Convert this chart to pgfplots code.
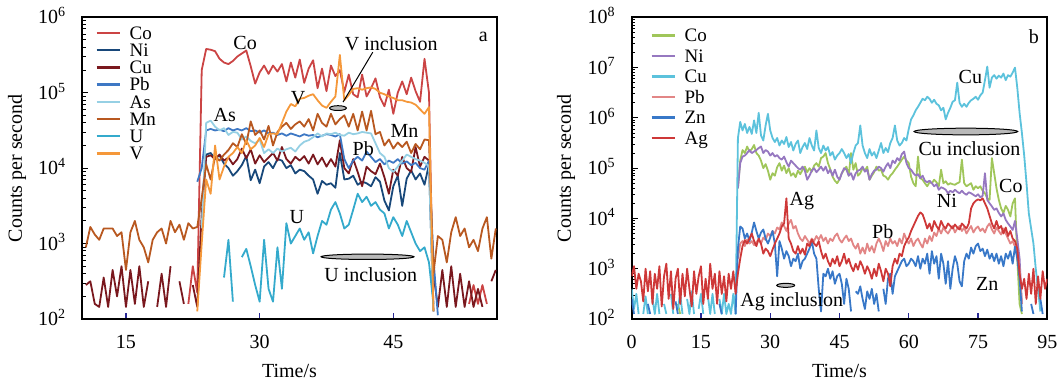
\documentclass[border=0pt]{standalone}
\usepackage{fontspec}
\setmainfont{Liberation Serif}
\usepackage{pgfplots}
\usepackage{pgfplotstable}
\pgfplotsset{compat=1.18}

\definecolor{aCo}{RGB}{203,68,68}
\definecolor{aNi}{RGB}{24,72,122}
\definecolor{aCu}{RGB}{122,24,30}
\definecolor{aPb}{RGB}{62,120,196}
\definecolor{aAs}{RGB}{150,208,228}
\definecolor{aMn}{RGB}{184,88,32}
\definecolor{aU}{RGB}{52,170,204}
\definecolor{aV}{RGB}{245,152,58}
\definecolor{bCo}{RGB}{160,198,90}
\definecolor{bNi}{RGB}{150,120,192}
\definecolor{bCu}{RGB}{92,194,220}
\definecolor{bPb}{RGB}{226,134,134}
\definecolor{bZn}{RGB}{56,120,200}
\definecolor{bAg}{RGB}{206,56,56}
\definecolor{tickblue}{RGB}{40,40,150}

% log10 of counts per second, panel a
\pgfplotstableread{
t co ni cu pb as mn u v
10.5 nan nan 2.45 nan nan 2.95 nan nan
11.0 nan nan 2.5 nan nan 3.22 nan nan
11.5 nan nan 2.2 nan nan 3.12 nan nan
12.0 nan nan 2.16 nan nan 3.05 nan nan
12.5 nan nan 2.55 nan nan 3.2 nan nan
13.0 nan nan 2.16 nan nan 3.2 nan nan
13.5 nan nan 2.65 nan nan 3.2 nan nan
14.0 nan nan 2.3 nan nan 3.1 nan nan
14.5 nan nan 2.7 nan nan 3.15 nan nan
15.0 nan nan 2.16 nan nan 2.65 nan nan
15.5 nan nan 2.65 nan nan 3.15 nan nan
16.0 nan nan 2.2 nan nan 3.3 nan nan
16.5 nan nan 2.7 nan nan 3.05 nan nan
17.0 nan nan 2.16 nan nan 2.95 nan nan
17.5 nan nan 2.5 nan nan 2.75 nan nan
18.0 nan nan nan nan nan 3.05 nan nan
18.5 nan nan 2.16 nan nan 3.15 nan nan
19.0 nan nan 2.6 nan nan 3.2 nan nan
19.5 nan nan 2.16 nan nan 3.0 nan nan
20.0 nan nan 2.7 nan nan 3.3 nan nan
20.5 nan nan nan nan nan 3.15 nan nan
21.0 nan nan 2.5 nan nan 3.25 nan nan
21.5 nan nan 2.2 nan nan 3.05 nan nan
22.0 2.2 nan nan nan nan 3.27 nan nan
22.5 2.7 nan 2.45 nan nan 3.2 nan nan
23.0 2.35 nan 2.16 3.82 nan 3.22 nan 2.1
23.5 5.3 3.5 3.4 4.0 3.2 3.6 nan 3.0
24.0 5.58 4.18 4.15 4.5 4.6 4.05 nan 3.85
24.5 5.57 4.2 4.17 4.52 4.63 3.85 nan 3.66
25.0 5.55 4.13 4.12 4.5 4.55 4.15 nan 4.3
25.5 5.45 4.17 4.18 4.51 4.5 4.1 nan 3.85
26.0 5.40 4.06 4.1 4.49 4.53 4.18 2.55 4.02
26.5 5.38 4.0 4.14 4.53 4.44 4.24 3.05 4.15
27.0 5.42 3.9 4.05 4.5 4.48 4.33 2.23 4.2
27.5 5.48 3.96 4.12 4.52 4.47 4.28 nan 4.28
28.0 5.52 4.04 4.26 4.5 4.38 4.45 2.82 4.2
28.5 5.56 4.16 4.13 4.53 4.42 4.32 2.93 4.37
29.0 5.35 3.84 4.25 4.49 4.36 4.62 2.7 4.25
29.5 5.12 3.98 4.06 4.5 4.33 4.44 2.45 4.3
30.0 5.27 3.8 4.17 4.47 4.38 4.5 2.23 4.4
30.5 5.36 4.02 4.08 4.5 4.2 4.38 3.05 4.28
31.0 5.25 4.08 4.14 4.46 4.25 4.56 2.4 4.45
31.5 5.36 4.0 4.2 4.47 4.2 4.3 2.23 4.46
32.0 5.28 4.12 4.1 4.44 4.26 4.48 2.95 4.45
32.5 5.38 4.1 4.28 4.46 4.22 4.55 2.4 4.6
33.0 5.15 4.0 4.12 4.43 4.25 4.6 3.27 4.75
33.5 5.40 4.04 4.06 4.46 4.27 4.52 3.0 4.85
34.0 5.20 3.93 4.15 4.44 4.22 4.58 3.1 4.82
34.5 5.44 3.98 4.1 4.42 4.3 4.62 3.2 4.92
35.0 5.13 3.96 4.16 4.45 4.35 4.55 3.05 4.93
35.5 5.32 3.9 4.06 4.43 4.37 4.65 3.15 4.96
36.0 5.43 3.85 4.18 4.44 4.41 4.5 2.87 4.98
36.5 5.06 3.66 4.05 4.41 4.46 4.72 3.1 4.9
37.0 5.32 3.83 4.14 4.43 4.42 4.6 3.3 4.83
37.5 5.02 3.78 4.02 4.45 4.46 4.55 3.25 4.8
38.0 5.36 3.8 4.12 4.44 4.45 4.72 3.45 4.88
38.5 5.22 3.74 4.02 4.42 4.47 4.58 3.55 4.95
39.0 5.30 4.2 4.37 4.45 4.44 4.65 3.4 5.5
39.5 5.01 3.85 4.0 4.12 4.43 4.7 3.2 4.9
40.0 5.24 3.86 3.93 4.0 4.47 4.55 3.25 4.97
40.5 4.98 3.9 4.12 4.1 4.45 4.72 3.45 5.05
41.0 4.94 3.78 3.95 4.15 4.46 4.5 3.66 5.06
41.5 5.24 3.82 3.76 4.1 4.48 4.75 3.55 5.04
42.0 4.95 3.8 4.02 4.22 4.47 4.5 3.62 5.06
42.5 5.06 3.76 3.96 4.15 4.46 4.76 3.5 5.07
43.0 5.19 3.88 3.92 4.08 4.33 4.45 3.55 5.05
43.5 4.94 3.82 4.06 4.12 4.2 4.48 3.45 5.0
44.0 4.82 3.57 3.88 4.05 4.15 4.3 3.4 4.98
44.5 5.04 3.44 3.66 4.1 4.0 4.38 3.2 4.95
45.0 4.72 3.76 3.98 4.07 3.95 4.26 3.35 4.93
45.5 5.0 3.9 3.9 4.12 4.02 4.34 3.25 4.9
46.0 5.15 3.5 4.15 4.06 4.1 4.28 3.1 4.9
46.5 4.98 3.86 4.0 4.09 4.18 4.35 3.3 4.88
47.0 5.2 3.97 3.95 4.04 4.15 4.2 3.15 4.87
47.5 5.02 3.85 4.28 4.07 4.12 4.32 3.0 4.84
48.0 4.88 3.93 4.02 4.0 4.1 4.25 2.9 4.78
48.5 5.45 3.78 4.15 3.98 4.07 4.38 2.95 4.72
49.0 5.0 4.05 4.1 4.1 4.03 4.37 2.75 4.81
49.5 2.1 2.1 2.6 2.8 2.1 2.6 2.2 2.1
50.0 nan nan 2.16 2.05 nan 3.1 nan nan
50.5 nan nan 2.65 nan nan 3.05 nan nan
51.0 nan nan 2.16 nan nan 2.75 nan nan
51.5 nan nan 2.7 nan nan 3.15 nan nan
52.0 nan nan 2.16 nan nan 3.35 nan nan
52.5 nan nan 2.6 nan nan 3.1 nan nan
53.0 nan nan 2.16 nan nan 3.2 nan nan
53.5 2.2 nan 2.5 nan nan 2.95 nan nan
54.0 2.45 nan 2.16 nan nan 3.05 nan nan
54.5 2.2 nan 2.4 nan nan 2.9 nan nan
55.0 2.45 nan 2.16 nan nan 3.2 nan nan
55.5 2.2 nan nan nan nan 3.35 nan nan
56.0 nan nan 2.5 nan nan 2.8 nan nan
56.5 nan nan 2.65 nan nan 3.2 nan nan
}\tabA

% log10 of counts per second, panel b
\pgfplotstableread{
t co ni cu pb zn ag
0.0 nan nan 2.6 nan 2.4 2.85
0.5 nan nan 2.2 nan 2.1 3.05
1.0 nan nan 2.5 nan nan 2.6
1.5 nan nan 2.1 nan nan 2.9
2.0 nan nan nan nan nan 2.75
2.5 nan nan 2.1 nan nan 2.35
3.0 nan nan 2.45 nan nan 3.0
3.5 nan nan 2.1 nan 2.3 2.55
4.0 nan nan nan nan 2.1 2.95
4.5 nan nan 2.4 nan nan 2.3
5.0 nan nan 2.1 nan nan 2.9
5.5 nan nan 2.5 nan nan 2.6
6.0 nan nan 2.1 nan nan 3.05
6.5 nan nan nan nan nan 2.25
7.0 nan nan 2.3 nan nan 2.85
7.5 nan nan 2.1 nan nan 3.1
8.0 nan nan nan nan nan 2.4
8.5 nan nan 2.5 nan nan 2.95
9.0 nan nan 2.1 nan nan 2.2
9.5 nan nan nan nan 2.35 2.8
10.0 2.3 nan 2.2 nan 2.1 3.0
10.5 2.1 nan 2.5 nan nan 2.3
11.0 nan nan 2.1 nan nan 2.9
11.5 nan nan nan nan nan 2.45
12.0 nan nan 2.4 nan nan 3.0
12.5 nan nan 2.1 nan nan 2.6
13.0 nan nan 2.55 nan nan 2.25
13.5 nan nan 2.1 nan nan 2.95
14.0 nan nan nan nan nan 2.5
14.5 nan nan 2.2 nan nan 2.85
15.0 nan nan 2.5 nan nan 3.05
15.5 nan nan 2.1 nan nan 2.3
16.0 nan nan nan nan nan 2.8
16.5 nan nan 2.45 nan nan 2.4
17.0 nan nan 2.1 nan nan 3.1
17.5 nan nan 2.5 nan nan 2.6
18.0 nan nan 2.1 nan nan 2.9
18.5 nan nan nan nan nan 2.3
19.0 nan nan 2.4 nan 2.3 2.95
19.5 nan nan 2.1 nan 2.1 2.5
20.0 nan nan 2.5 nan nan 2.85
20.5 nan nan 2.1 nan nan 2.35
21.0 nan nan 2.3 nan nan 2.9
21.5 nan nan 2.1 nan nan 2.6
22.0 nan nan 2.5 nan nan 2.95
22.5 nan nan 2.1 nan 2.1 2.5
23.0 4.6 4.6 5.6 3.2 3.4 2.9
23.5 5.15 5.1 5.92 3.5 3.84 3.2
24.0 5.36 5.23 5.75 3.55 3.8 3.45
24.5 5.3 5.25 5.88 3.45 3.6 3.57
25.0 5.43 5.3 5.7 3.58 3.7 3.5
25.5 5.33 5.36 5.82 3.5 3.55 3.6
26.0 5.38 5.3 5.68 3.55 3.72 3.7
26.5 5.46 5.33 5.95 3.47 3.92 3.55
27.0 5.3 5.36 5.7 3.53 3.75 3.45
27.5 5.25 5.4 6.1 3.58 3.6 3.6
28.0 5.15 5.43 5.65 3.5 3.72 3.5
28.5 5.0 5.3 5.55 3.62 3.78 3.3
29.0 5.08 5.36 5.85 3.57 3.6 3.4
29.5 4.95 5.33 6.08 3.7 3.5 3.35
30.0 4.77 5.25 5.75 3.65 3.62 3.25
30.5 4.9 5.3 5.6 3.75 3.75 3.38
31.0 4.85 5.23 5.52 3.7 3.5 3.5
31.5 5.02 5.26 5.6 3.82 2.85 3.6
32.0 5.1 5.2 5.45 3.78 3.55 3.7
32.5 4.95 5.17 5.55 3.92 3.4 3.84
33.0 5.05 5.23 5.48 3.85 3.2 3.9
33.5 4.9 5.12 5.62 3.75 3.35 4.4
34.0 5.0 5.03 5.42 3.9 3.25 3.6
34.5 4.85 5.15 5.52 3.97 3.05 3.5
35.0 4.9 5.1 5.35 3.8 3.2 3.35
35.5 4.82 5.05 5.48 3.85 3.15 3.3
36.0 4.95 5.0 5.55 3.7 3.3 3.45
36.5 4.88 4.97 5.3 3.6 3.0 3.3
37.0 4.97 5.03 5.42 3.55 3.15 3.4
37.5 5.03 4.95 5.5 3.65 3.2 3.28
38.0 4.92 4.77 5.38 3.58 3.3 3.5
38.5 5.0 4.85 5.6 3.5 3.4 3.45
39.0 4.93 4.95 5.45 3.6 3.55 3.58
39.5 5.05 5.0 5.35 3.55 3.3 3.5
40.0 5.1 4.92 5.75 3.65 3.2 3.45
40.5 5.03 4.97 5.4 3.58 2.6 3.55
41.0 5.2 5.03 5.3 3.67 2.15 3.35
41.5 5.23 4.95 5.45 3.55 2.9 3.2
42.0 5.3 5.03 5.35 3.62 2.85 3.3
42.5 5.1 4.9 5.42 3.5 3.0 3.15
43.0 4.98 4.97 5.25 3.6 2.8 3.05
43.5 4.83 4.85 5.32 3.55 2.95 3.2
44.0 4.75 4.97 5.17 3.65 2.7 3.1
44.5 4.7 4.83 5.25 3.7 2.85 3.25
45.0 4.78 4.77 5.3 3.58 2.9 3.05
45.5 4.9 4.9 5.38 3.52 2.7 3.15
46.0 4.97 5.0 5.3 3.6 2.3 3.3
46.5 5.03 4.97 5.2 3.66 2.8 3.1
47.0 4.85 4.85 5.28 3.55 2.6 3.2
47.5 5.3 4.9 5.1 3.6 2.15 3.05
48.0 4.97 4.77 5.3 3.47 nan 2.95
48.5 5.1 4.9 5.45 3.4 2.55 3.1
49.0 4.85 4.95 5.5 3.5 2.5 2.98
49.5 4.9 4.97 5.85 3.3 2.65 3.15
50.0 5.0 5.03 5.45 3.42 2.4 3.05
50.5 4.95 4.93 5.3 3.3 2.2 2.9
51.0 5.03 4.97 5.2 3.5 2.55 3.05
51.5 4.77 4.77 5.38 3.35 2.4 2.95
52.0 4.85 4.88 5.25 3.45 2.6 2.8
52.5 4.92 4.95 5.32 3.32 2.3 3.0
53.0 5.03 4.97 5.2 3.5 2.5 2.85
53.5 4.95 5.03 5.35 3.6 2.15 3.1
54.0 4.97 5.0 5.5 3.5 nan 2.95
54.5 4.85 4.93 5.3 3.35 2.6 2.75
55.0 4.83 5.03 5.4 3.55 2.3 3.0
55.5 4.77 5.1 5.32 3.45 2.8 2.9
56.0 4.85 5.0 5.5 3.6 2.9 2.65
56.5 4.9 5.15 5.6 3.5 2.5 3.05
57.0 4.97 5.1 5.85 3.55 2.85 3.2
57.5 5.03 5.2 5.55 3.45 2.95 3.1
58.0 5.1 5.15 5.45 3.6 3.05 3.3
58.5 5.17 5.28 5.5 3.5 3.15 3.25
59.0 5.23 5.33 5.6 3.7 3.2 3.45
59.5 5.15 5.1 5.55 3.58 3.05 3.55
60.0 5.1 5.0 5.78 3.5 3.1 3.62
60.5 4.83 4.97 5.97 3.6 3.2 3.75
61.0 4.7 4.9 6.05 3.45 3.15 3.85
61.5 4.64 4.85 6.15 3.55 3.05 3.95
62.0 5.23 4.88 6.22 3.6 3.25 4.05
62.5 4.8 4.8 6.3 3.5 3.0 4.12
63.0 4.77 4.85 6.38 3.42 3.2 4.08
63.5 4.7 4.75 6.35 3.6 3.1 3.95
64.0 4.64 4.72 6.42 3.5 3.3 3.8
64.5 4.72 4.75 6.38 3.65 2.9 3.9
65.0 4.7 4.7 6.3 3.55 3.35 3.75
65.5 4.77 4.64 6.36 3.72 3.1 3.95
66.0 4.72 4.68 6.28 3.65 3.25 3.85
66.5 4.64 4.57 6.25 3.8 2.8 3.78
67.0 4.97 4.62 6.15 3.7 3.3 3.95
67.5 4.7 4.6 6.2 3.82 3.1 3.85
68.0 4.74 4.57 5.97 3.75 2.7 3.8
68.5 4.67 4.5 6.1 3.7 3.15 3.9
69.0 4.7 4.55 6.2 3.78 2.6 3.85
69.5 4.68 4.52 6.32 3.85 3.0 3.8
70.0 4.67 4.57 6.35 3.72 3.25 3.88
70.5 4.7 4.53 6.7 3.8 3.1 3.82
71.0 4.72 4.5 6.3 3.85 2.75 3.78
71.5 5.17 4.55 6.22 3.75 2.65 3.9
72.0 4.7 4.5 6.28 3.82 3.15 3.85
72.5 4.64 4.47 6.22 3.7 3.3 3.8
73.0 4.67 4.52 6.3 3.78 3.2 3.9
73.5 4.7 4.5 6.35 3.85 3.42 4.2
74.0 4.57 4.47 6.38 3.72 3.3 4.3
74.5 4.64 4.44 6.42 3.8 3.45 4.35
75.0 4.6 4.48 6.36 3.84 3.5 4.38
75.5 4.64 4.42 6.45 3.75 3.35 4.36
76.0 4.55 4.45 6.5 3.8 3.4 4.4
76.5 4.5 4.9 6.75 3.72 3.25 4.3
77.0 4.4 4.37 7.02 3.84 3.38 4.2
77.5 4.37 4.3 6.6 3.9 3.2 4.05
78.0 5.2 4.24 6.8 3.78 3.3 3.9
78.5 4.9 4.17 6.85 3.7 3.15 3.8
79.0 4.6 4.2 6.78 3.82 3.3 3.95
79.5 4.37 4.11 6.84 3.75 3.1 3.8
80.0 4.2 4.04 6.8 3.68 3.25 3.85
80.5 4.11 4.1 6.88 3.8 3.05 3.7
81.0 4.25 3.97 6.75 3.7 3.3 3.82
81.5 4.17 3.9 6.85 3.6 3.2 3.65
82.0 4.04 3.84 6.82 3.5 3.35 3.75
82.5 4.3 3.77 6.9 3.55 3.1 3.6
83.0 4.4 3.95 7.0 3.44 3.44 3.55
83.5 3.2 3.6 6.6 3.35 3.2 3.4
84.0 2.3 3.2 6.1 3.0 2.8 2.9
84.5 2.1 2.3 5.7 2.3 2.15 2.6
85.0 nan nan 5.25 nan nan 2.8
85.5 nan nan 4.7 nan nan 2.4
86.0 nan nan 4.1 nan nan 2.9
86.5 nan nan 3.8 nan 2.3 2.5
87.0 nan nan 3.5 nan 2.1 3.0
87.5 nan nan 3.0 nan nan 2.3
88.0 nan nan 2.6 nan nan 2.85
88.5 nan nan 2.15 nan 2.4 2.4
89.0 nan nan nan nan 2.1 2.95
89.5 nan nan nan nan nan 2.6
90.0 nan nan nan nan nan 2.8
}\tabB

\pgfplotsset{
  mypanel/.style={
    scale only axis,
    tick pos=left, tick align=inside,
    major tick length=3pt, minor tick length=1.8pt,
    xtick style={draw=tickblue, line width=0.6pt},
    ytick style={draw=black, line width=0.5pt},
    axis line style={line width=1pt},
    xticklabel style={anchor=center, yshift=-11.35pt},
    yticklabel shift=4.5pt,
    yticklabel style={anchor=base east, yshift=-3.3pt},
    unbounded coords=jump, no markers,
    every axis plot/.append style={line width=0.9pt, line join=round},
    legend cell align=left,
  }
}

\begin{document}
\begin{tikzpicture}[font=\fontsize{10}{12}\selectfont]
\useasboundingbox (0,0) rectangle (529.5pt,190pt);

\begin{axis}[mypanel, ymode=log, ymin=100,
  at={(41.15pt,30.5pt)}, anchor=south west,
  width=207.2pt, height=150.85pt,
  xmin=10.1, xmax=56.6, ymax=1e6,
  xtick={15,30,45}, xticklabels={15,30,45},
  ytick={1e2,1e3,1e4,1e5,1e6},
  yticklabels={10\textsuperscript{2},10\textsuperscript{3},10\textsuperscript{4},10\textsuperscript{5},10\textsuperscript{6}},
  minor ytick={200,300,400,500,600,700,800,900,2000,3000,4000,5000,6000,7000,8000,9000,20000,30000,40000,50000,60000,70000,80000,90000,200000,300000,400000,500000,600000,700000,800000,900000},
  xlabel={Time/s}, ylabel={Counts per second},
  xlabel style={at={(axis description cs:0.5,-0.1955)}, anchor=base},
  ylabel style={at={(axis description cs:-0.1573,0.5)}, anchor=center},
  legend image code/.code={\draw[#1, line width=1.2pt] (0pt,0pt) -- (11.7pt,0pt);},
  legend style={draw=none, fill=none, at={(axis description cs:0,1)}, anchor=north west,
    xshift=6.35pt, yshift=-4.5pt, inner sep=0pt, row sep=2.3pt, column sep=4.2pt,
    font=\fontsize{9.5}{11}\selectfont,
    nodes={inner sep=0pt, text height=6.3pt, text depth=0pt}},
]
\addplot[aCo] table[x=t, y expr=10^\thisrow{co}] {\tabA};
\addplot[aNi] table[x=t, y expr=10^\thisrow{ni}] {\tabA};
\addplot[aCu] table[x=t, y expr=10^\thisrow{cu}] {\tabA};
\addplot[aPb] table[x=t, y expr=10^\thisrow{pb}] {\tabA};
\addplot[aAs] table[x=t, y expr=10^\thisrow{as}] {\tabA};
\addplot[aMn] table[x=t, y expr=10^\thisrow{mn}] {\tabA};
\addplot[aU] table[x=t, y expr=10^\thisrow{u}] {\tabA};
\addplot[aV] table[x=t, y expr=10^\thisrow{v}] {\tabA};
\legend{Co,Ni,Cu,Pb,As,Mn,U,V}
\node at (rel axis cs:0.3928,0.914) {Co};
\node at (rel axis cs:0.7457,0.912) {V inclusion};
\node at (rel axis cs:0.5208,0.7332) {V};
\draw[line width=0.5pt] (rel axis cs:0.7009,0.8842) -- (rel axis cs:0.6292,0.7189);
\draw[fill=gray!55, line width=0.5pt] (rel axis cs:0.6170,0.699) ellipse [x radius=4.2pt, y radius=1.2pt];
\node at (rel axis cs:0.3439,0.6748) {As};
\node at (rel axis cs:0.7775,0.6229) {Mn};
\node at (rel axis cs:0.6781,0.5645) {Pb};
\node at (rel axis cs:0.5175,0.3385) {U};
\draw[fill=gray!55, line width=0.5pt] (rel axis cs:0.6883,0.2062) ellipse [x radius=23.2pt, y radius=1.35pt];
\node at (rel axis cs:0.696,0.1455) {U inclusion};
\node at (rel axis cs:0.9674,0.936) {a};
\end{axis}

\begin{axis}[mypanel, ymode=log, ymin=100,
  at={(315.85pt,30.5pt)}, anchor=south west,
  width=207.8pt, height=150.85pt,
  xmin=0, xmax=90, ymax=1e8,
  xtick={0,15,30,45,60,75,90}, xticklabels={0,15,30,45,60,75,95},
  ytick={1e2,1e3,1e4,1e5,1e6,1e7,1e8},
  yticklabels={10\textsuperscript{2},10\textsuperscript{3},10\textsuperscript{4},10\textsuperscript{5},10\textsuperscript{6},10\textsuperscript{7},10\textsuperscript{8}},
  minor ytick={200,300,400,500,600,700,800,900,2000,3000,4000,5000,6000,7000,8000,9000,20000,30000,40000,50000,60000,70000,80000,90000,200000,300000,400000,500000,600000,700000,800000,900000,2e6,3e6,4e6,5e6,6e6,7e6,8e6,9e6,2e7,3e7,4e7,5e7,6e7,7e7,8e7,9e7},
  xlabel={Time/s}, ylabel={Counts per second},
  xlabel style={at={(axis description cs:0.5,-0.1955)}, anchor=base},
  ylabel style={at={(axis description cs:-0.158,0.5)}, anchor=center},
  legend image code/.code={\draw[#1, line width=1.2pt] (0pt,0pt) -- (11.7pt,0pt);},
  legend style={draw=none, fill=none, at={(axis description cs:0,1)}, anchor=north west,
    xshift=9.15pt, yshift=-5.7pt, inner sep=0pt, row sep=3.95pt, column sep=4.2pt,
    font=\fontsize{9.5}{11}\selectfont,
    nodes={inner sep=0pt, text height=6.3pt, text depth=0pt}},
]
\addplot[bCo] table[x=t, y expr=10^\thisrow{co}] {\tabB};
\addplot[bNi] table[x=t, y expr=10^\thisrow{ni}] {\tabB};
\addplot[bCu] table[x=t, y expr=10^\thisrow{cu}] {\tabB};
\addplot[bPb] table[x=t, y expr=10^\thisrow{pb}] {\tabB};
\addplot[bZn] table[x=t, y expr=10^\thisrow{zn}] {\tabB};
\addplot[bAg] table[x=t, y expr=10^\thisrow{ag}] {\tabB};
\legend{Co,Ni,Cu,Pb,Zn,Ag}
\node at (rel axis cs:0.815,0.8035) {Cu};
\draw[fill=gray!55, line width=0.5pt] (rel axis cs:0.8041,0.6214) ellipse [x radius=25.9pt, y radius=1.67pt];
\node at (rel axis cs:0.8127,0.5662) {Cu inclusion};
\node at (rel axis cs:0.9124,0.4393) {Co};
\node at (rel axis cs:0.7583,0.3918) {Ni};
\node at (rel axis cs:0.4096,0.3896) {Ag};
\node at (rel axis cs:0.6042,0.2903) {Pb};
\node at (rel axis cs:0.8556,0.1159) {Zn};
\draw[fill=gray!55, line width=0.5pt] (rel axis cs:0.3706,0.1115) ellipse [x radius=4.47pt, y radius=1.0pt];
\node at (rel axis cs:0.3852,0.0585) {Ag inclusion};
\node at (rel axis cs:0.9676,0.936) {b};
\end{axis}
\end{tikzpicture}
\end{document}
